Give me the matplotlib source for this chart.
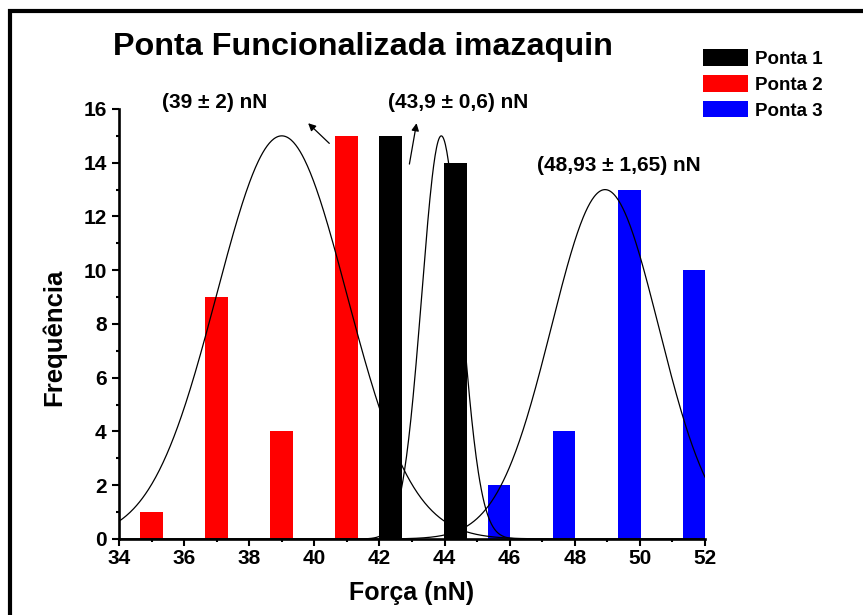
import numpy as np
import matplotlib.pyplot as plt
from matplotlib.lines import Line2D

plt.rcParams['font.family'] = ['Liberation Sans', 'DejaVu Sans']
plt.rcParams['font.weight'] = 'bold'

### Histogramas de força para cada ponta ###
forca_p1 = [42.33, 44.33]
freq_p1 = [15, 14]
forca_p2 = [35, 37, 39, 41]
freq_p2 = [1, 9, 4, 15]
forca_p3 = [45.67, 47.67, 49.67, 51.67]
freq_p3 = [2, 4, 13, 10]

### Ajustes gaussianos (Ponta 1, Ponta 2, Ponta 3) ###
centro = [43.9, 39.0, 48.93]
largura = [0.6, 2.0, 1.65]
amplitude = [15, 15, 13]
rotulos = ['(43,9 ± 0,6) nN', '(39 ± 2) nN', '(48,93 ± 1,65) nN']

fig = plt.figure(figsize=(8.63, 6.15), dpi=100)
ax = fig.add_axes([0.1379, 0.1236, 0.679, 0.6992])

ax.bar(forca_p1, freq_p1, width=0.7, color='black', lw=0, label='Ponta 1')
ax.bar(forca_p2, freq_p2, width=0.7, color='#ff0000', lw=0, label='Ponta 2')
ax.bar(forca_p3, freq_p3, width=0.7, color='#0000ff', lw=0, label='Ponta 3')

x = np.linspace(34, 52, 800)
for c, s, a in zip(centro, largura, amplitude):
    ax.plot(x, a*np.exp(-(x - c)**2/(2*s**2)), color='black', lw=0.9, zorder=3)

### Rótulos dos ajustes e setas ###
ax.text(35.32, 16.02, rotulos[1], fontsize=15, va='baseline', clip_on=False)
ax.text(42.26, 16.02, rotulos[0], fontsize=15, va='baseline', clip_on=False)
ax.text(46.83, 13.69, rotulos[2], fontsize=15, va='baseline', clip_on=False)
seta = dict(arrowstyle='-|>', color='black', lw=0.9, mutation_scale=11, shrinkA=0, shrinkB=0)
ax.annotate('', xy=(39.81, 15.47), xytext=(40.46, 14.72), arrowprops=seta, annotation_clip=False)
ax.annotate('', xy=(43.14, 15.47), xytext=(42.92, 13.95), arrowprops=seta, annotation_clip=False)

ax.set_xlim(34, 52)
ax.set_ylim(0, 16)
ax.set_xticks(np.arange(34, 53, 2))
ax.set_xticks(np.arange(34, 53, 1), minor=True)
ax.set_yticks(np.arange(0, 17, 2))
ax.set_yticks(np.arange(0, 17, 1), minor=True)
ax.tick_params(which='major', direction='out', length=5, width=1.5, labelsize=15)
ax.tick_params(which='minor', direction='out', length=2.5, width=1.5)
ax.tick_params(axis='x', pad=2.5)
ax.tick_params(axis='y', pad=4)
for lado in ['top', 'right']:
    ax.spines[lado].set_visible(False)
for lado in ['left', 'bottom']:
    ax.spines[lado].set_linewidth(1.9)

ax.legend(loc='upper left', bbox_to_anchor=(703/863, 1 - 49.5/615), bbox_transform=fig.transFigure,
          frameon=False, fontsize=13.5, handlelength=2.4, handleheight=0.96,
          handletextpad=0.37, labelspacing=0.38, borderpad=0, borderaxespad=0)

fig.text(363/863, 1 - 55/615, 'Ponta Funcionalizada imazaquin', fontsize=23.3, ha='center', va='baseline')
fig.text(412/863, 1 - 600/615, 'Força (nN)', fontsize=18, ha='center', va='baseline')
fig.text(54/863, 1 - 337/615, 'Frequência', fontsize=18.5, ha='center', va='center', rotation=90)

### Moldura ###
fig.add_artist(Line2D([10/863, 10/863, 1], [0, 1 - 11/615, 1 - 11/615], color='black', lw=3,
                      solid_joinstyle='miter', solid_capstyle='butt'))

fig.savefig('out.png', dpi=100)
